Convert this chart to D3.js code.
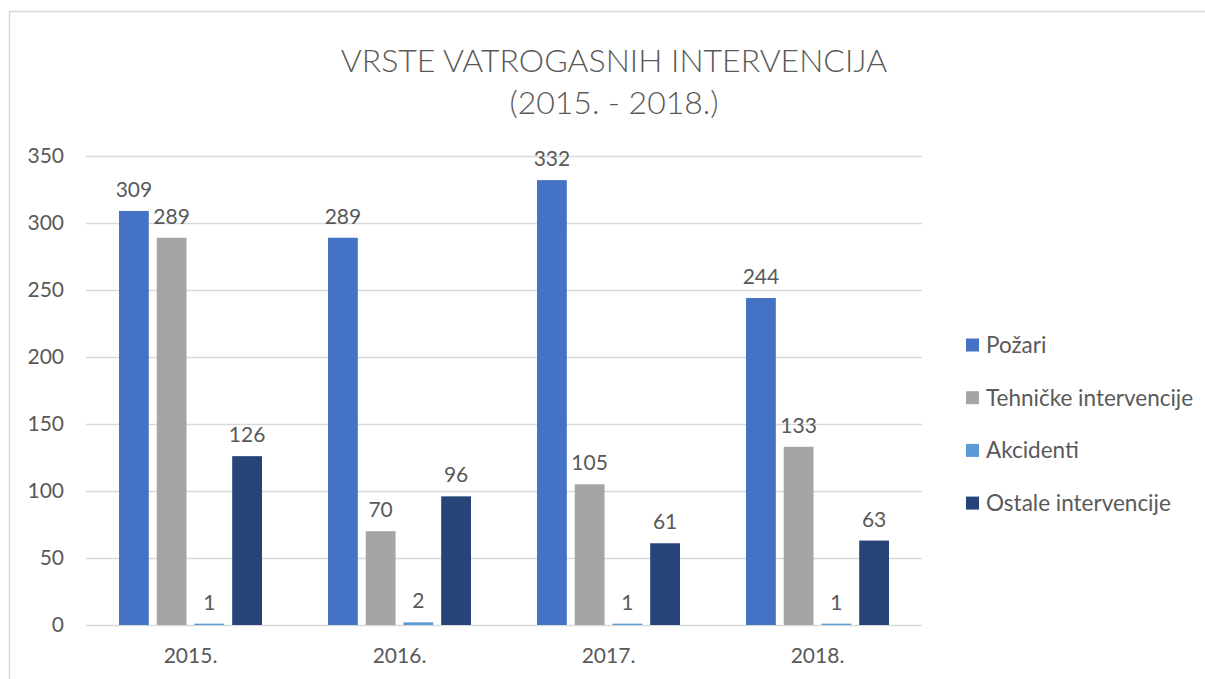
<!DOCTYPE html>
<html>
<head>
<meta charset="utf-8">
<script src="https://cdn.jsdelivr.net/npm/d3@7"></script>
<style>
    body { margin: 0; background: #fff; }
    text { font-family: Lato, "Open Sans", sans-serif; fill: #595959; }
</style>
</head>
<body>
<div id="chart"></div>
<script>
// chart data
var years = ["2015.", "2016.", "2017.", "2018."];
var seriesNames = ["Požari", "Tehničke intervencije", "Akcidenti", "Ostale intervencije"];
var pozari = [309, 289, 332, 244];
var tehnicke = [289, 70, 105, 133];
var akcidenti = [1, 2, 1, 1];
var ostale = [126, 96, 61, 63];
var yTicks = [0, 50, 100, 150, 200, 250, 300, 350];
var colors = ["#4472C4", "#A5A5A5", "#5B9BD5", "#264478"];

var seriesValues = [pozari, tehnicke, akcidenti, ostale];

var width = 1205, height = 679;
var margin = { top: 156, right: 283, bottom: 54, left: 86 };
var innerW = width - margin.left - margin.right,
    innerH = height - margin.top - margin.bottom;

var svg = d3.select("#chart")
    .append("svg")
    .attr("width", width)
    .attr("height", height);

// outer chart border
svg.append("rect")
    .attr("x", 9.5)
    .attr("y", 11.5)
    .attr("width", 1210)
    .attr("height", 700)
    .attr("fill", "none")
    .attr("stroke", "#d9d9d9")
    .attr("stroke-width", 1.5);

// title
svg.append("text")
    .attr("x", 614)
    .attr("y", 72)
    .attr("text-anchor", "middle")
    .style("font-size", "32px")
    .style("font-weight", 300)
    .text("VRSTE VATROGASNIH INTERVENCIJA");

svg.append("text")
    .attr("x", 614)
    .attr("y", 114)
    .attr("text-anchor", "middle")
    .style("font-size", "32px")
    .style("font-weight", 300)
    .text("(2015. - 2018.)");

var g = svg.append("g")
    .attr("transform", "translate(" + margin.left + "," + margin.top + ")");

var x0 = d3.scaleBand().domain(years).range([0, innerW]).padding(0);
var x1 = d3.scaleBand().domain(seriesNames)
    .range([33, x0.bandwidth() - 33])
    .paddingInner(0.21);
var y = d3.scaleLinear().domain([0, 350]).range([innerH, 0]);

// gridlines
g.selectAll(".grid")
    .data(yTicks)
    .join("line")
    .attr("class", "grid")
    .attr("x1", 0)
    .attr("x2", innerW)
    .attr("y1", function (d) { return y(d) + 0.5 })
    .attr("y2", function (d) { return y(d) + 0.5 })
    .attr("stroke", "#d9d9d9")
    .attr("stroke-width", 1.3);

// y axis labels
var yAxis = d3.axisLeft(y).tickValues(yTicks).tickSize(0).tickPadding(22);
g.append("g")
    .call(yAxis)
    .call(function (sel) { sel.select(".domain").remove() })
    .selectAll("text")
    .style("font-size", "21px")
    .style("fill", "#595959");

// x axis labels
var xAxis = d3.axisBottom(x0).tickSize(0).tickPadding(23);
g.append("g")
    .attr("transform", "translate(0," + innerH + ")")
    .call(xAxis)
    .call(function (sel) { sel.select(".domain").remove() })
    .selectAll("text")
    .style("font-size", "21px")
    .style("fill", "#595959");

// bars
var groups = g.selectAll(".year")
    .data(years)
    .join("g")
    .attr("class", "year")
    .attr("transform", function (d) { return "translate(" + x0(d) + ",0)" });

groups.selectAll("rect")
    .data(function (d, i) {
        return seriesNames.map(function (s, j) { return { name: s, value: seriesValues[j][i], idx: j } })
    })
    .join("rect")
    .attr("x", function (d) { return x1(d.name) })
    .attr("width", x1.bandwidth())
    .attr("y", function (d) { return y(d.value) })
    .attr("height", function (d) { return innerH - y(d.value) })
    .attr("fill", function (d) { return colors[d.idx] });

groups.selectAll(".lbl")
    .data(function (d, i) {
        return seriesNames.map(function (s, j) { return { name: s, value: seriesValues[j][i] } })
    })
    .join("text")
    .attr("class", "lbl")
    .attr("x", function (d) { return x1(d.name) + x1.bandwidth() / 2 })
    .attr("y", function (d) { return y(d.value) - 14 })
    .attr("text-anchor", "middle")
    .style("font-size", "21px")
    .text(function (d) { return d.value });

// legend
var legend = svg.append("g")
    .attr("transform", "translate(966,345)");

var items = legend.selectAll(".leg")
    .data(seriesNames)
    .join("g")
    .attr("class", "leg")
    .attr("transform", function (d, i) { return "translate(0," + (i * 52.7) + ")" });

items.append("rect")
    .attr("x", 0)
    .attr("y", -6.5)
    .attr("width", 13)
    .attr("height", 13)
    .attr("fill", function (d, i) { return colors[i] });

items.append("text")
    .attr("x", 20)
    .attr("y", 8)
    .style("font-size", "22.5px")
    .text(function (d) { return d });
</script>
</body>
</html>
